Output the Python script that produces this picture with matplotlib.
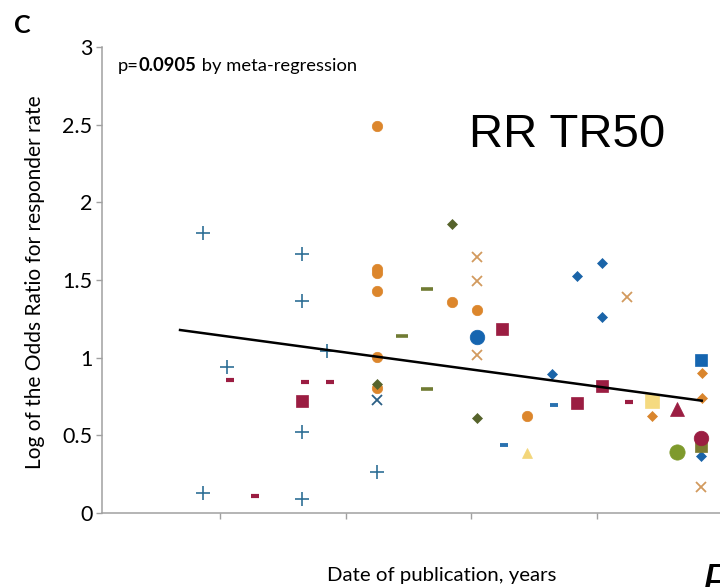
import matplotlib
matplotlib.use("Agg")
import matplotlib.pyplot as plt
import numpy as np

plt.rcParams["font.family"] = ["Lato", "DejaVu Sans"]

# study points: x = publication date (axis units, ticks at integers), y = log OR
PT_X = [0.862, 0.862, 1.058, 1.655, 1.655, 1.655, 1.655, 1.854, 2.252,
        1.080, 1.279, 1.676, 1.875, 4.257,
        1.655, 3.244, 3.843, 4.042,
        2.252, 2.252, 2.252, 2.252, 2.252, 2.252, 2.848, 3.045, 3.443,
        2.252, 2.848, 3.045,
        2.451, 2.650, 2.650,
        2.252,
        3.045, 3.045, 3.045, 4.239, 4.831,
        3.045,
        3.262, 3.660,
        3.443,
        3.643, 3.843, 4.042, 4.042, 4.831,
        4.438,
        4.438, 4.833, 4.833,
        4.634,
        4.634,
        4.827,
        4.831,
        4.831]
PT_Y = [1.80, 0.127, 0.942, 1.666, 1.367, 0.524, 0.090, 1.045, 0.266,
        0.856, 0.111, 0.841, 0.845, 0.715,
        0.723, 1.183, 0.710, 0.818,
        2.49, 1.569, 1.543, 1.431, 1.002, 0.803, 1.361, 1.307, 0.625,
        0.831, 1.861, 0.610,
        1.140, 1.442, 0.796,
        0.728,
        1.650, 1.496, 1.015, 1.389, 0.169,
        1.135,
        0.438, 0.694,
        0.384,
        0.895, 1.528, 1.608, 1.260, 0.367,
        0.719,
        0.625, 0.904, 0.739,
        0.670,
        0.393,
        0.985,
        0.431,
        0.483]
PT_GROUP = (["blue_plus"] * 9 + ["crimson_dash"] * 5 + ["crimson_square"] * 4
            + ["orange_circle"] * 9 + ["olive_diamond"] * 3 + ["olive_dash"] * 3
            + ["navy_x"] + ["tan_x"] * 5 + ["blue_circle"] + ["blue_dash"] * 2
            + ["yellow_triangle"] + ["blue_diamond"] * 5 + ["yellow_square"]
            + ["orange_diamond"] * 3 + ["crimson_triangle"] + ["green_circle"]
            + ["blue_square"] + ["olive_square"] + ["crimson_circle"])

# meta-regression line
FIT_X = [0.682, 4.833]
FIT_SLOPE = -0.1096
FIT_INTERCEPT = 1.2528

Y_TICKS = [0, 0.5, 1, 1.5, 2, 2.5, 3]
Y_TICK_LABELS = ["0", "0.5", "1", "1.5", "2", "2.5", "3"]
X_TICKS = [1, 2, 3, 4, 5]

STYLE = {
    "blue_plus": dict(marker="+", color="#2f6f96", ms=9.5, mew=1.2),
    "crimson_dash": dict(marker="_", color="#9b1d42", ms=6, mew=3.0),
    "crimson_square": dict(marker="s", color="#9b1d42", ms=9),
    "orange_circle": dict(marker="o", color="#dc862c", ms=7.5),
    "olive_diamond": dict(marker="D", color="#56632b", ms=5),
    "olive_dash": dict(marker="_", color="#707b33", ms=8, mew=2.6),
    "navy_x": dict(marker="x", color="#2b5f85", ms=7.5, mew=1.3),
    "tan_x": dict(marker="x", color="#d29a5e", ms=7.5, mew=1.3),
    "blue_circle": dict(marker="o", color="#1565b0", ms=10.5),
    "blue_dash": dict(marker="_", color="#2a72b0", ms=5.5, mew=2.8),
    "yellow_triangle": dict(marker="^", color="#f3d67a", ms=7.5),
    "blue_diamond": dict(marker="D", color="#1a64a8", ms=5),
    "yellow_square": dict(marker="s", color="#f5da80", ms=10),
    "orange_diamond": dict(marker="D", color="#d9852d", ms=5),
    "crimson_triangle": dict(marker="^", color="#9b1d42", ms=10),
    "green_circle": dict(marker="o", color="#7e9a2c", ms=11),
    "blue_square": dict(marker="s", color="#1565b0", ms=9),
    "olive_square": dict(marker="s", color="#7a7a30", ms=9),
    "crimson_circle": dict(marker="o", color="#9b1d42", ms=10.5),
}

W, H = 720, 587
fig = plt.figure(figsize=(W / 100, H / 100), dpi=100)
# axis runs on past the right edge of the figure (cropped panel)
ax = fig.add_axes([102 / W, 74 / H, 678 / W, 466 / H])
ax.set_xlim(0.061, 5.456)
ax.set_ylim(0, 3)

xs = np.array(PT_X)
ys = np.array(PT_Y)
groups = np.array(PT_GROUP)
for z, (g, st) in enumerate(STYLE.items()):
    sel = groups == g
    ax.plot(xs[sel], ys[sel], linestyle="none", marker=st["marker"],
            color=st["color"], markersize=st["ms"],
            markeredgewidth=st.get("mew", 0.5), zorder=3 + z * 0.01,
            clip_on=False)

fx = np.array(FIT_X)
ax.plot(fx, FIT_INTERCEPT + FIT_SLOPE * fx, color="black", lw=1.8, zorder=5)

for side in ["top", "right"]:
    ax.spines[side].set_visible(False)
for side in ["left", "bottom"]:
    ax.spines[side].set_color("#a0a0a0")
    ax.spines[side].set_linewidth(1.1)
ax.set_yticks(Y_TICKS)
ax.set_yticklabels(Y_TICK_LABELS)
ax.set_xticks(X_TICKS)
ax.set_xticklabels([])
ax.tick_params(axis="both", color="#a0a0a0", length=4, width=1.0,
               direction="out")
ax.tick_params(axis="y", labelsize=15.5, pad=3)

ax.set_ylabel("Log of the Odds Ratio for responder rate", fontsize=15)
ax.yaxis.set_label_coords(45 / W, 1 - 282 / H, transform=fig.transFigure)
fig.text(442 / W, 1 - 581 / H, "Date of publication, years", fontsize=14.7,
         ha="center", va="baseline")

fig.text(14 / W, 1 - 14 / H, "C", fontsize=18, fontweight="bold",
         ha="left", va="top")

fs_p = 13.2
t1 = fig.text(118 / W, 1 - 71 / H, "p=", fontsize=fs_p, va="baseline")
t2 = ax.annotate("0.0905", xy=(1, 0), xycoords=t1, fontsize=fs_p,
                 fontweight="bold", va="bottom", ha="left")
ax.annotate(" by meta-regression", xy=(1, 0), xycoords=t2, fontsize=fs_p,
            va="bottom", ha="left")

fig.text(469 / W, 1 - 147 / H, "RR TR50", fontsize=34,
         family="Liberation Sans", ha="left", va="baseline")
fig.text(702 / W, 1 - 562 / H, "R", fontsize=34, family="Liberation Sans",
         style="italic", ha="left", va="top")

fig.savefig("out.png", dpi=100)
